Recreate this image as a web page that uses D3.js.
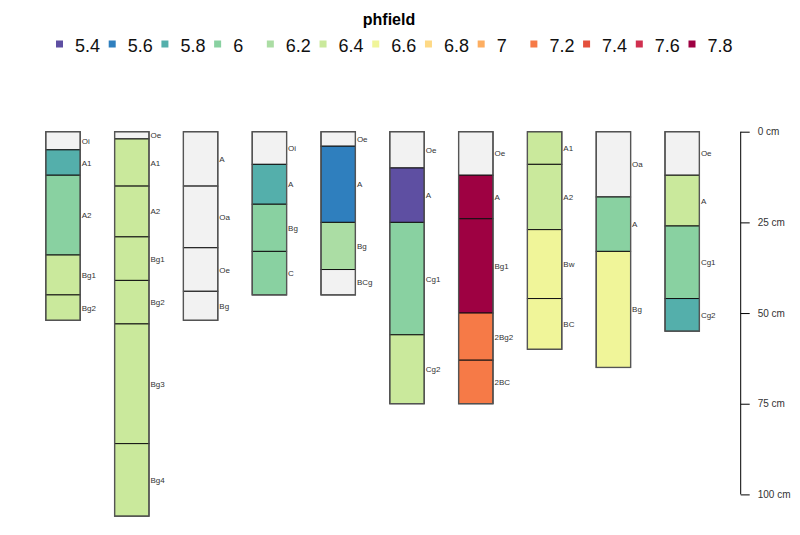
<!DOCTYPE html>
<html>
<head>
<meta charset="utf-8">
<script src="https://cdn.jsdelivr.net/npm/d3@7"></script>
<style>
  body { margin: 0; background: #fff; }
  svg { display: block; }
</style>
</head>
<body>
<svg id="chart" width="800" height="535"></svg>
<script>
'use strict'

// legend classes (field pH) and their colours
var phLevels = [5.4, 5.6, 5.8, 6, 6.2, 6.4, 6.6, 6.8, 7, 7.2, 7.4, 7.6, 7.8];
var phColors = ['#5E4FA2', '#2F7FBE', '#54AFAB', '#89D1A1', '#ABDDA4', '#CAE99C',
                '#F0F599', '#FED985', '#FDAE61', '#F67A47', '#E4503C', '#D0304F', '#9E0142'];
var naColor = '#F2F2F2';

// one entry per profile, horizons top to bottom
var horizonNames = [
  ['Oi', 'A1', 'A2', 'Bg1', 'Bg2'],
  ['Oe', 'A1', 'A2', 'Bg1', 'Bg2', 'Bg3', 'Bg4'],
  ['A', 'Oa', 'Oe', 'Bg'],
  ['Oi', 'A', 'Bg', 'C'],
  ['Oe', 'A', 'Bg', 'BCg'],
  ['Oe', 'A', 'Cg1', 'Cg2'],
  ['Oe', 'A', 'Bg1', '2Bg2', '2BC'],
  ['A1', 'A2', 'Bw', 'BC'],
  ['Oa', 'A', 'Bg'],
  ['Oe', 'A', 'Cg1', 'Cg2']
];
var horizonBottoms = [
  [5, 12, 34, 45, 52],
  [2, 15, 29, 41, 53, 86, 106],
  [15, 32, 44, 52],
  [9, 20, 33, 45],
  [4, 25, 38, 45],
  [10, 25, 56, 75],
  [12, 24, 50, 63, 75],
  [9, 27, 46, 60],
  [18, 33, 65],
  [12, 26, 46, 55]
];
var horizonPh = [
  [null, 5.8, 6, 6.4, 6.4],
  [null, 6.4, 6.4, 6.4, 6.4, 6.4, 6.4],
  [null, null, null, null],
  [null, 5.8, 6, 6],
  [null, 5.6, 6.2, null],
  [null, 5.4, 6, 6.4],
  [null, 7.8, 7.8, 7.2, 7.2],
  [6.4, 6.4, 6.6, 6.6],
  [null, 6, 6.6],
  [null, 6.4, 6, 5.8]
];
var depthTicks = [0, 25, 50, 75, 100];

var svg = d3.select('#chart');

var y = d3.scaleLinear().domain([0, 100]).range([131.7, 494.4]);
var x = d3.scaleLinear().domain([0, horizonNames.length - 1]).range([63, 682.2]);
var profileWidth = 34.4;

var color = d3.scaleOrdinal().domain(phLevels).range(phColors);
function fillFor(ph) {
  return ph == null ? naColor : color(ph);
}

// build flat horizon table from the arrays
var horizons = [];
for (var p = 0; p < horizonNames.length; p++) {
  var hzTop = 0;
  for (var h = 0; h < horizonNames[p].length; h++) {
    horizons.push({
      profile: p,
      name: horizonNames[p][h],
      top: hzTop,
      bottom: horizonBottoms[p][h],
      ph: horizonPh[p][h]
    });
    hzTop = horizonBottoms[p][h];
  }
}

// horizons
svg.append('g').selectAll('rect')
  .data(horizons)
  .enter().append('rect')
  .attr('x', function(d) { return x(d.profile) - profileWidth / 2; })
  .attr('y', function(d) { return y(d.top); })
  .attr('width', profileWidth)
  .attr('height', function(d) { return y(d.bottom) - y(d.top); })
  .attr('fill', function(d) { return fillFor(d.ph); })
  .attr('stroke', '#111')
  .attr('stroke-width', 1);

// profile outlines
svg.append('g').selectAll('rect')
  .data(horizonBottoms)
  .enter().append('rect')
  .attr('x', function(d, i) { return x(i) - profileWidth / 2; })
  .attr('y', y(0))
  .attr('width', profileWidth)
  .attr('height', function(d) { return y(d[d.length - 1]) - y(0); })
  .attr('fill', 'none')
  .attr('stroke', '#555')
  .attr('stroke-width', 1.3);

// horizon labels
svg.append('g').selectAll('text')
  .data(horizons)
  .enter().append('text')
  .attr('x', function(d) { return x(d.profile) + profileWidth / 2 + 1.5; })
  .attr('y', function(d) { return (y(d.top) + y(d.bottom)) / 2 + 3; })
  .attr('font-family', 'Liberation Sans, Arial, sans-serif')
  .attr('font-size', 8)
  .attr('fill', '#333')
  .text(function(d) { return d.name; });

// depth axis
var axis = d3.axisRight(y)
  .tickValues(depthTicks)
  .tickSize(9)
  .tickPadding(8)
  .tickFormat(function(d) { return d + ' cm'; });
var axisG = svg.append('g')
  .attr('transform', 'translate(740.7,0)')
  .call(axis);
axisG.select('.domain').attr('d', 'M0,' + y(0) + 'V' + y(100)).attr('stroke', '#000');
axisG.selectAll('.tick line').attr('stroke', '#000');
axisG.selectAll('.tick text')
  .attr('font-family', 'Liberation Sans, Arial, sans-serif')
  .attr('font-size', 10)
  .attr('fill', '#333');

// legend
svg.append('text')
  .attr('x', 389)
  .attr('y', 25)
  .attr('text-anchor', 'middle')
  .attr('font-family', 'Liberation Sans, Arial, sans-serif')
  .attr('font-weight', 'bold')
  .attr('font-size', 16)
  .attr('fill', '#000')
  .text('phfield');

var lx = d3.scaleLinear().domain([0, phLevels.length - 1]).range([59.5, 692]);
var items = svg.append('g').selectAll('g')
  .data(phLevels)
  .enter().append('g')
  .attr('transform', function(d, i) { return 'translate(' + lx(i) + ',44)'; });
items.append('rect')
  .attr('x', -3.5).attr('y', -3.5)
  .attr('width', 7).attr('height', 7)
  .attr('fill', function(d) { return color(d); });
items.append('text')
  .attr('x', 15.5)
  .attr('y', 8)
  .attr('font-family', 'Liberation Sans Narrow, Arial Narrow, sans-serif')
  .attr('font-size', 18)
  .attr('fill', '#111')
  .text(function(d) { return String(d); });
</script>
</body>
</html>
